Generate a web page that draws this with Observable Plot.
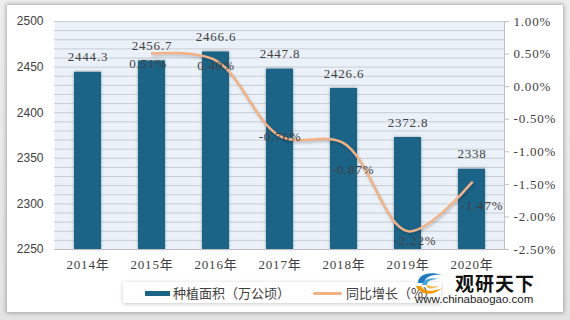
<!DOCTYPE html>
<html><head><meta charset="utf-8">
<script src="https://cdn.jsdelivr.net/npm/d3@7"></script>
<script src="https://cdn.jsdelivr.net/npm/@observablehq/plot@0.6"></script>
<style>
html,body{margin:0;padding:0;background:#e8e8e8;}
#wrap{position:relative;width:570px;height:320px;overflow:hidden;background:linear-gradient(#eeeeee,#e3e3e3);}
#panel{position:absolute;left:7px;top:5px;width:556px;height:307px;background:#fff;box-shadow:0 0 4px 1px rgba(0,0,0,0.28);}
#chart{position:absolute;left:0;top:0;}
#chart svg text{font-family:'Liberation Serif','Noto Sans CJK SC',serif;letter-spacing:0.8px;}
#chart svg g.lefttick text{font-family:'Liberation Sans',Arial,sans-serif;letter-spacing:0;}
#legend{position:absolute;left:123px;top:282px;width:318px;height:21px;background:#fff;box-shadow:0 1px 4px rgba(0,0,0,0.22);font:13px "Noto Sans CJK SC",sans-serif;color:#404040;}
#legend .sw1{position:absolute;left:22px;top:9px;width:25px;height:5px;background:#1b6488;}
#legend .t1{position:absolute;left:50px;top:1px;line-height:19px;white-space:nowrap;}
#legend .sw2{position:absolute;left:190px;top:10px;width:29px;height:3px;background:#f4b183;border-radius:2px;}
#legend .t2{position:absolute;left:223px;top:1px;line-height:19px;white-space:nowrap;}
#logo{position:absolute;left:410px;top:270px;width:130px;height:36px;}
#logo .cn{position:absolute;left:45px;top:3px;font:bold 19px "Noto Sans CJK SC",sans-serif;letter-spacing:1px;color:#111;line-height:19px;white-space:nowrap;}
#logo .url{position:absolute;left:5px;top:22px;font:11.5px "Liberation Sans",Arial,sans-serif;color:#222;line-height:14px;white-space:nowrap;}
#logo svg{position:absolute;left:2px;top:0px;}
</style>
</head><body>
<div id="wrap">
  <div id="panel"></div>
  <div id="chart"></div>
  <div id="legend">
    <div class="sw1"></div><div class="t1">种植面积（万公顷）</div>
    <div class="sw2"></div><div class="t2">同比增长（%）</div>
  </div>
  <div id="logo">
    <svg width="36" height="28" viewBox="0 0 36 28">
      <path d="M6 13 C6 4 18 1 30 5 C22 4 13 6 12 13 Z" fill="#1a7bbf"/>
      <path d="M10 15 C11 9 19 7 27 9 C20 9 15 11 15 15 Z" fill="#46a6d8"/>
      <path d="M4 16 C8 26 22 26 30 18 C22 22 12 22 9 16 Z" fill="#f39800"/>
      <path d="M14 16 C17 20 24 19 27 15 C23 17 19 17 17 15 Z" fill="#f7b84a"/>
    </svg>
    <div class="cn">观研天下</div>
    <div class="url">www.chinabaogao.com</div>
  </div>
</div>
<script>
// ---- data ----
const years = ["2014年","2015年","2016年","2017年","2018年","2019年","2020年"];
const area = [2444.3, 2456.7, 2466.6, 2447.8, 2426.6, 2372.8, 2338];
const growth = [null, 0.51, 0.40, -0.76, -0.87, -2.22, -1.47];
const leftTicks = [2250, 2300, 2350, 2400, 2450, 2500];
const rightTicks = [-2.5, -2.0, -1.5, -1.0, -0.5, 0, 0.5, 1.0];
const rightTickLabels = ["-2.50%","-2.00%","-1.50%","-1.00%","-0.50%","0.00%","0.50%","1.00%"];

// ---- layout ----
const L0 = 2250, L1 = 2500, R0 = -2.5, R1 = 1.0;
const toLeft = p => L0 + (p - R0) / (R1 - R0) * (L1 - L0);
const rows = years.map((y, i) => ({year: y, area: area[i], growth: growth[i]}));
const lineRows = rows.filter(d => d.growth != null);
// label nudges (dx, dy) as placed in the original
const nudge = [[0,0],[-4,10],[0,5],[0,1],[9,27],[7,10],[10,23]];

const growthLabels = rows.map((d, i) => d.growth == null ? null :
  Plot.text([d], {x: "year", y: r => toLeft(r.growth), text: r => r.growth.toFixed(2) + "%",
    dx: nudge[i][0], dy: nudge[i][1], fontSize: 13, fill: "#404040"})
).filter(Boolean);

const chart = Plot.plot({
  width: 570, height: 320,
  marginLeft: 54, marginRight: 66, marginTop: 21, marginBottom: 71,
  x: {domain: years, paddingInner: 0.58, paddingOuter: 0.29, axis: null},
  y: {domain: [L0, L1], axis: null},
  style: {background: "transparent", color: "#404040", fontSize: "13px"},
  marks: [
    Plot.frame({fill: "#eaf1f9", stroke: null}),
    Plot.ruleY(d3.range(L0, L1 + 1, 10), {stroke: "#c9cdd3", strokeWidth: 1}),
    Plot.barY(rows, {x: "year", y1: L0, y2: "area", fill: "#1b6488"}),
    Plot.line(lineRows, {x: "year", y: d => toLeft(d.growth), stroke: "#f4b183", strokeWidth: 2.5, curve: "catmull-rom"}),
    Plot.text(rows, {x: "year", y: "area", text: d => String(d.area), dy: -15, fontSize: 13, fill: "#404040"}),
    ...growthLabels,
    Plot.ruleY([L0], {stroke: "#bfbfbf"}),
    Plot.frame({anchor: "right", stroke: "#bfbfbf"}),
    Plot.axisX({tickSize: 0, tickPadding: 10, label: null, fontSize: 13, fill: "#404040"}),
    Plot.axisY(leftTicks, {anchor: "left", tickSize: 0, tickPadding: 11, label: null, className: "lefttick",
      tickFormat: d => String(d), fontSize: 12, fill: "#404040"}),
    Plot.axisY(rightTicks.map(toLeft), {anchor: "right", tickSize: 4, tickPadding: 5, stroke: "#bfbfbf", label: null,
      tickFormat: v => rightTickLabels[rightTicks.findIndex(t => Math.abs(toLeft(t) - v) < 1e-6)],
      fontSize: 13, fill: "#404040"})
  ]
});
document.getElementById("chart").appendChild(chart);
d3.select(chart).selectAll('[aria-label="bar"]').style("filter", "drop-shadow(0 0 1.5px rgba(0,0,0,0.35))");
d3.select(chart).selectAll('[aria-label="line"]').style("filter", "drop-shadow(1px 2px 1px rgba(0,0,0,0.2))");
</script>
</body></html>
